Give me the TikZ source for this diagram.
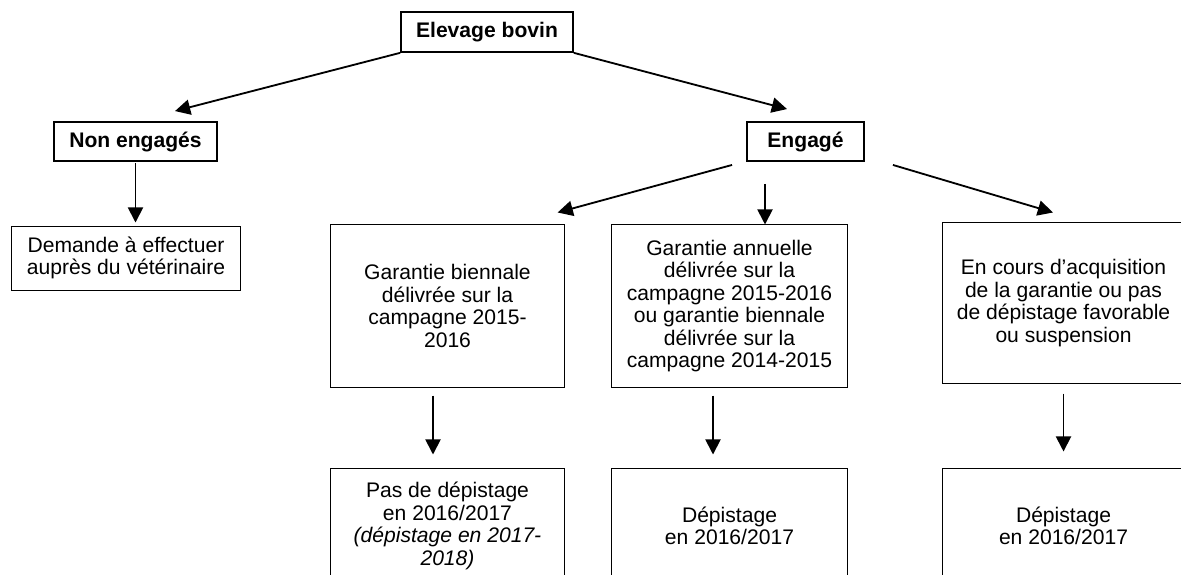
\documentclass[tikz,border=0pt]{standalone}
\usepackage{fontspec}
\setmainfont{Liberation Sans}
\usetikzlibrary{arrows.meta}

\tikzset{
  box/.style={draw, line width=0.7pt, align=center, inner sep=2pt,
    font=\fontsize{15pt}{16pt}\selectfont},
  headbox/.style={box, line width=1.2pt, font=\fontsize{15pt}{16pt}\selectfont\bfseries},
  arr/.style={line width=1.3pt, -{Triangle[length=0.38cm,width=0.38cm]}}
}

\begin{document}
\begin{tikzpicture}[x=0.025cm, y=-0.025cm]
        \clip (0,0) rectangle (1181,574);
        \fill[white] (0,0) rectangle (1181,574);
        % top
        \node [headbox, minimum width=4.3cm, minimum height=1cm] (elevage) at (487,32) {Elevage bovin};
        \node [headbox, minimum width=4.08cm, minimum height=0.98cm] (nonengages) at (135.5,141.5) {Non engagés};
        \node [headbox, minimum width=2.93cm, minimum height=0.98cm] (engage) at (805.5,141.5) {Engagé};
        \node [box, minimum width=5.7cm, minimum height=1.6cm] (demande) at (126,258) {Demande à effectuer\\auprès du vétérinaire};
        % middle row
        \node [box, minimum width=5.83cm, minimum height=4.05cm] (biennale) at (447.5,306) {Garantie biennale\\délivrée sur la\\campagne 2015-\\2016};
        \node [box, minimum width=5.88cm, minimum height=4.05cm] (annuelle) at (729.5,306) {Garantie annuelle\\délivrée sur la\\campagne 2015-2016\\ou garantie biennale\\délivrée sur la\\campagne 2014-2015};
        \node [box, minimum width=6.03cm, minimum height=4cm] (encours) at (1063.5,303) {En cours d’acquisition\\de la garantie ou pas\\de dépistage favorable\\ou suspension};
        % bottom row (cut by the page)
        \node [box, minimum width=5.83cm, minimum height=2.9cm] (pasdep) at (447.5,526) {Pas de dépistage\\en 2016/2017\\\textit{(dépistage en 2017-}\\\textit{2018)}};
        \node [box, minimum width=5.88cm, minimum height=2.9cm] (dep1) at (729.5,526) {Dépistage\\en 2016/2017};
        \node [box, minimum width=6.03cm, minimum height=2.9cm] (dep2) at (1063.5,526) {Dépistage\\en 2016/2017};
        % arrows
        \draw [arr] (elevage.south west) -- ([shift={(39.5,-10)}]nonengages.north);
        \draw [arr] (elevage.south east) -- ([shift={(-18.5,-12)}]engage.north);
        \draw [arr] ([shift={(0,1)}]nonengages.south) -- ([shift={(0,-3)}]nonengages.south |- demande.north);
        \draw [arr] ([shift={(-14,3)}]engage.south west) -- ([shift={(-7,-12)}]biennale.north east);
        \draw [arr] ([shift={(-40.5,22)}]engage.south) -- ([shift={(-40.5,0)}]engage.south |- annuelle.north);
        \draw [arr] ([shift={(28,3)}]engage.south east) -- ([shift={(-10.5,-10)}]encours.north);
        \draw [arr] ([shift={(-14.5,8)}]biennale.south) -- ([shift={(-14.5,-13)}]pasdep.north);
        \draw [arr] ([shift={(-16.5,8)}]annuelle.south) -- ([shift={(-16.5,-13)}]dep1.north);
        \draw [arr] ([shift={(0,10)}]encours.south) -- ([shift={(0,-16)}]dep2.north);
    \end{tikzpicture}
\end{document}
